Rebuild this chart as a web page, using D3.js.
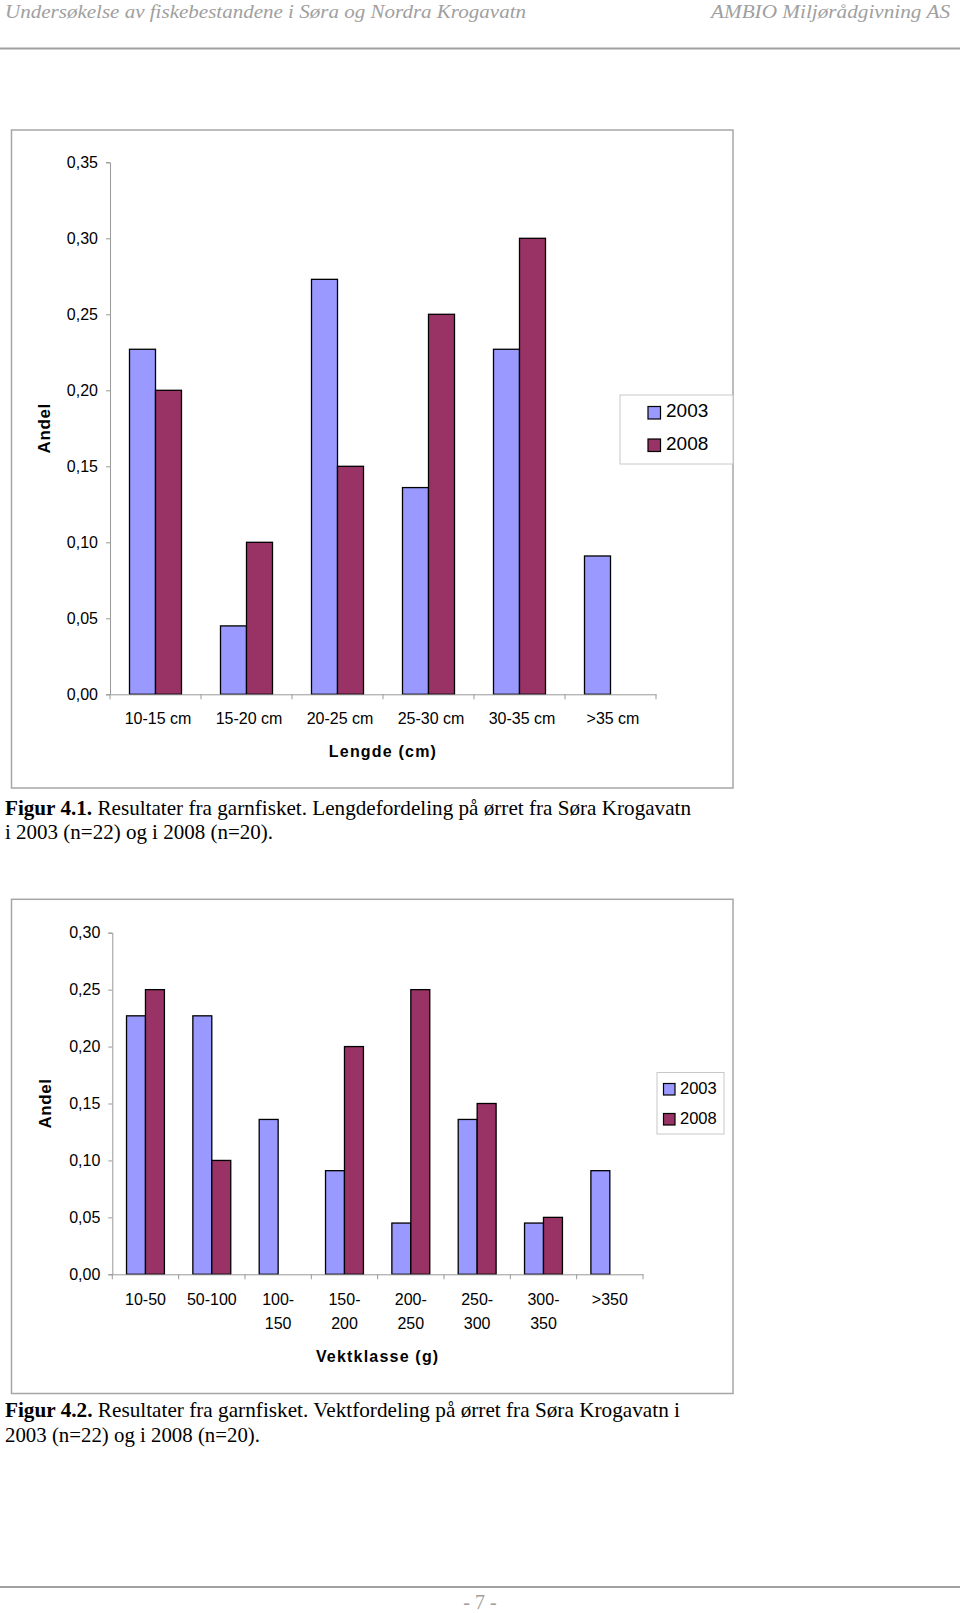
<!DOCTYPE html>
<html><head><meta charset="utf-8">
<script src="https://cdn.jsdelivr.net/npm/d3@7"></script>
<style>
html,body{margin:0;padding:0;background:#fff;}
svg{display:block;}
</style></head>
<body>
<script>
// ---- data ----
const series = ["2003", "2008"];
const lengthCategories = ["10-15 cm", "15-20 cm", "20-25 cm", "25-30 cm", "30-35 cm", ">35 cm"];
const length2003 = [0.227, 0.045, 0.273, 0.136, 0.227, 0.091];
const length2008 = [0.20, 0.10, 0.15, 0.25, 0.30, 0];
const lengthTicks = [0, 0.05, 0.10, 0.15, 0.20, 0.25, 0.30, 0.35];

const weightCategories = ["10-50", "50-100", "100-|150", "150-|200", "200-|250", "250-|300", "300-|350", ">350"];
const weight2003 = [0.227, 0.227, 0.136, 0.091, 0.045, 0.136, 0.045, 0.091];
const weight2008 = [0.25, 0.10, 0, 0.20, 0.25, 0.15, 0.05, 0];
const weightTicks = [0, 0.05, 0.10, 0.15, 0.20, 0.25, 0.30];

const colors = {"2003": "#9999ff", "2008": "#993366"};
const SANS = "'Liberation Sans', Arial, sans-serif";
const SERIF = "'Liberation Serif', 'Times New Roman', serif";

const W = 960, H = 1613;
const svg = d3.select("body").append("svg").attr("width", W).attr("height", H);

// header
svg.append("text").attr("x", 5).attr("y", 18).attr("font-family", SERIF).attr("font-style", "italic")
  .attr("font-size", 19).attr("fill", "#a0a0a0").attr("textLength", 521).attr("lengthAdjust", "spacingAndGlyphs")
  .text("Undersøkelse av fiskebestandene i Søra og Nordra Krogavatn");
svg.append("text").attr("x", 711).attr("y", 18).attr("font-family", SERIF).attr("font-style", "italic")
  .attr("font-size", 19).attr("fill", "#a0a0a0").attr("textLength", 239).attr("lengthAdjust", "spacingAndGlyphs")
  .text("AMBIO Miljørådgivning AS");
svg.append("line").attr("x1", 0).attr("x2", 960).attr("y1", 48.5).attr("y2", 48.5).attr("stroke", "#a0a0a0").attr("stroke-width", 2);

// footer
svg.append("line").attr("x1", 0).attr("x2", 960).attr("y1", 1587).attr("y2", 1587).attr("stroke", "#a0a0a0").attr("stroke-width", 2);
svg.append("text").attr("x", 480).attr("y", 1609).attr("text-anchor", "middle").attr("font-family", SERIF)
  .attr("font-size", 20).attr("fill", "#a0a0a0").text("- 7 -");

function fmt(v){ return d3.format(".2f")(v).replace(".", ","); }

function drawChart(cfg){
  const g = svg.append("g");
  // frame
  g.append("rect").attr("x", cfg.box[0]).attr("y", cfg.box[1]).attr("width", cfg.box[2]-cfg.box[0]).attr("height", cfg.box[3]-cfg.box[1])
    .attr("fill", "#fff").attr("stroke", "#a6a6a6").attr("stroke-width", 1.5);

  const x = d3.scaleBand().domain(cfg.categories).range([cfg.x0, cfg.x1]).paddingInner(0).paddingOuter(0);
  const xs = d3.scaleBand().domain(series).range([0, x.bandwidth()]).paddingInner(0).paddingOuter(0.75);
  const y = d3.scaleLinear().domain([0, cfg.ymax]).range([cfg.y0, cfg.y1]);

  // y axis
  const ya = g.append("g").attr("transform", `translate(${cfg.x0},0)`)
    .call(d3.axisLeft(y).tickValues(cfg.ticks).tickFormat(fmt).tickSize(4).tickPadding(8));
  ya.select(".domain").attr("stroke", "#999");
  ya.selectAll(".tick line").attr("stroke", "#999");
  ya.selectAll(".tick text").attr("font-family", SANS).attr("font-size", 16).attr("fill", "#000");

  // bars
  const data = [];
  cfg.categories.forEach((c, i) => {
    series.forEach(s => {
      const v = cfg.values[s][i];
      if (v > 0) data.push({c, s, v});
    });
  });
  g.selectAll("rect.bar").data(data).enter().append("rect").attr("class", "bar")
    .attr("x", d => x(d.c) + xs(d.s))
    .attr("width", xs.bandwidth())
    .attr("y", d => y(d.v))
    .attr("height", d => y(0) - y(d.v))
    .attr("fill", d => colors[d.s])
    .attr("stroke", "#000").attr("stroke-width", 1.3);

  // x axis
  const xa = g.append("g").attr("transform", `translate(0,${cfg.y0})`)
    .call(d3.axisBottom(x).tickSize(0).tickFormat(""));
  xa.select(".domain").attr("stroke", "#999");
  // tick marks between categories
  const bounds = cfg.categories.map(c => x(c)).concat([cfg.x1]);
  g.selectAll("line.xt").data(bounds).enter().append("line").attr("class", "xt")
    .attr("x1", d => d).attr("x2", d => d).attr("y1", cfg.y0).attr("y2", cfg.y0 + 5)
    .attr("stroke", "#999");
  // category labels
  cfg.categories.forEach(c => {
    const lines = c.split("|");
    lines.forEach((ln, k) => {
      g.append("text").attr("x", x(c) + x.bandwidth()/2 + cfg.labelDx).attr("y", cfg.labelY + k*cfg.lineH)
        .attr("text-anchor", "middle").attr("font-family", SANS).attr("font-size", 16).text(ln);
    });
  });
  // axis titles
  g.append("text").attr("x", (cfg.x0 + cfg.x1)/2).attr("y", cfg.titleY).attr("text-anchor", "middle")
    .attr("font-family", SANS).attr("font-size", 16).attr("font-weight", "bold").attr("letter-spacing", 1.2).text(cfg.xTitle);
  g.append("text").attr("transform", `translate(${cfg.yTitleX},${(cfg.y0 + cfg.y1)/2}) rotate(-90)`)
    .attr("text-anchor", "middle").attr("font-family", SANS).attr("font-size", 17).attr("font-weight", "bold")
    .attr("letter-spacing", 0.6).text("Andel");

  // legend
  const L = cfg.legend;
  g.append("rect").attr("x", L.x).attr("y", L.y).attr("width", L.w).attr("height", L.h)
    .attr("fill", "#fff").attr("stroke", "#c8c8c8").attr("stroke-width", 1);
  series.forEach((s, i) => {
    g.append("rect").attr("x", L.sx).attr("y", L.sy + i*L.dy).attr("width", L.ss).attr("height", L.ss)
      .attr("fill", colors[s]).attr("stroke", "#000").attr("stroke-width", 1.2);
    g.append("text").attr("x", L.tx).attr("y", L.ty + i*L.dy).attr("font-family", SANS).attr("font-size", L.fs).text(s);
  });
}

drawChart({
  box: [11.5, 130, 733, 788],
  categories: lengthCategories,
  values: {"2003": length2003, "2008": length2008},
  ticks: lengthTicks, ymax: 0.35,
  x0: 110, x1: 656, y0: 694.3, y1: 162.3,
  labelY: 724, lineH: 23, labelDx: 2.5, titleY: 757, xTitle: "Lengde (cm)", yTitleX: 50,
  legend: {x: 620, y: 395, w: 113, h: 69, sx: 648, sy: 406.5, ss: 12.5, dy: 32.5, tx: 666, ty: 417, fs: 19}
});

drawChart({
  box: [11.5, 899.3, 733, 1393.5],
  categories: weightCategories,
  values: {"2003": weight2003, "2008": weight2008},
  ticks: weightTicks, ymax: 0.30,
  x0: 112.3, x1: 643, y0: 1274.3, y1: 932.7,
  labelY: 1305, lineH: 23.5, labelDx: 0, titleY: 1362, xTitle: "Vektklasse (g)", yTitleX: 51,
  legend: {x: 657, y: 1072.5, w: 67, h: 61.5, sx: 663.5, sy: 1083.5, ss: 11.5, dy: 30, tx: 680, ty: 1093.5, fs: 16.5}
});

// captions
function caption(x, y, bold, rest, len){
  const t = svg.append("text").attr("x", x).attr("y", y).attr("font-family", SERIF).attr("font-size", 21)
    .attr("textLength", len).attr("lengthAdjust", "spacingAndGlyphs");
  if (bold) t.append("tspan").attr("font-weight", "bold").text(bold);
  t.append("tspan").text(rest);
}
caption(5, 815, "Figur 4.1.", "  Resultater fra garnfisket. Lengdefordeling på ørret fra Søra Krogavatn", 686);
caption(5, 838.5, null, "i 2003 (n=22) og i 2008 (n=20).", 268);
caption(5, 1417, "Figur 4.2.", "  Resultater fra garnfisket. Vektfordeling på ørret fra Søra Krogavatn i", 675);
caption(5, 1442, null, "2003 (n=22) og i 2008 (n=20).", 255);
</script>
</body></html>
